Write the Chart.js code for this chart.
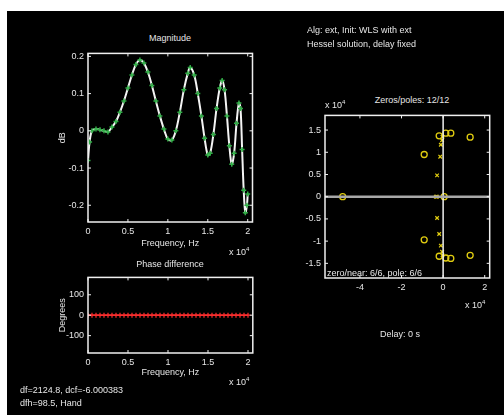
<!DOCTYPE html>
<html>
<head>
<meta charset="utf-8">
<script src="https://cdn.jsdelivr.net/npm/chart.js@4.4.0/dist/chart.umd.min.js"></script>
<style>
body{margin:0;background:#fff;width:504px;height:415px;overflow:hidden;font-family:"Liberation Sans",Arial,sans-serif}
#panel{position:absolute;left:7px;top:11px;width:497px;height:404px;background:#000}
canvas{position:absolute}
.txt{position:absolute;color:#e6e6e6;font-size:9px;white-space:nowrap;line-height:10px}
.ctr{transform:translateX(-50%)}
sup{font-size:6px;vertical-align:4px}
</style>
</head>
<body>
<div id="panel"></div>
<canvas id="magChart" width="203" height="208" style="left:55px;top:44px"></canvas>
<canvas id="phaseChart" width="203" height="113" style="left:55px;top:268px"></canvas>
<canvas id="pzChart" width="203" height="192" style="left:292px;top:106px"></canvas>

<div class="txt ctr" style="left:170px;top:33px">Magnitude</div>
<div class="txt ctr" style="left:170px;top:259px">Phase difference</div>
<div class="txt ctr" style="left:412px;top:95px">Zeros/poles: 12/12</div>
<div class="txt" style="left:229px;top:244px">x 10<sup>4</sup></div>
<div class="txt" style="left:229px;top:374px">x 10<sup>4</sup></div>
<div class="txt" style="left:325px;top:97px">x 10<sup>4</sup></div>
<div class="txt" style="left:465px;top:297px">x 10<sup>4</sup></div>
<div class="txt" style="left:307px;top:25px">Alg: ext, Init: WLS with ext</div>
<div class="txt" style="left:307px;top:39px">Hessel solution, delay fixed</div>
<div class="txt" style="left:327px;top:268px">zero/near: 6/6, pole: 6/6</div>
<div class="txt" style="left:380px;top:329px">Delay: 0 s</div>
<div class="txt" style="left:20px;top:385px">df=2124.8, dcf=-6.000383</div>
<div class="txt" style="left:20px;top:398px">dfh=98.5, Hand</div>

<script>
// ---------- data (frequency in units of 10^4 Hz) ----------
const magFreq = [0, 0.02, 0.05, 0.1, 0.15, 0.2, 0.25, 0.3, 0.35, 0.4, 0.45, 0.5, 0.55, 0.6, 0.65, 0.7,
    0.75, 0.8, 0.85, 0.9, 0.95, 1.0, 1.05, 1.1, 1.15, 1.2, 1.25, 1.28, 1.33, 1.375, 1.42, 1.46, 1.5,
    1.53, 1.57, 1.61, 1.65, 1.68, 1.71, 1.74, 1.77, 1.8, 1.83, 1.86, 1.89, 1.91, 1.93, 1.95, 1.97, 1.99, 2.0]
const magValue = [-0.08, -0.03, 0.0, 0.005, 0.003, 0.0, -0.003, 0.01, 0.025, 0.05, 0.08, 0.115, 0.15, 0.178, 0.19, 0.182,
    0.158, 0.122, 0.08, 0.04, 0.005, -0.022, -0.025, 0.0, 0.05, 0.11, 0.155, 0.17, 0.15, 0.10, 0.04, -0.02, -0.065,
    -0.06, -0.01, 0.06, 0.115, 0.135, 0.11, 0.04, -0.04, -0.09, -0.06, 0.02, 0.075, 0.06, -0.05, -0.16, -0.22, -0.2, -0.17]

const phaseFreq = [0, 0.05, 0.1, 0.15, 0.2, 0.25, 0.3, 0.35, 0.4, 0.45, 0.5, 0.55, 0.6, 0.65, 0.7, 0.75, 0.8, 0.85, 0.9, 0.95,
    1.0, 1.05, 1.1, 1.15, 1.2, 1.25, 1.3, 1.35, 1.4, 1.45, 1.5, 1.55, 1.6, 1.65, 1.7, 1.75, 1.8, 1.85, 1.9, 1.95, 2.0]
const phaseValue = [0, 0, 0, 0, 0, 0, 0, 0, 0, 0, 0, 0, 0, 0, 0, 0, 0, 0, 0, 0,
    0, 0, 0, 0, 0, 0, 0, 0, 0, 0, 0, 0, 0, 0, 0, 0, 0, 0, 0, 0, 0]

// zeros / poles in units of 10^4
const zeroRe = [-4.83, 0.05, -0.91, -0.91, -0.19, -0.19, 0.13, 0.13, 0.37, 0.37, 1.3, 1.3]
const zeroIm = [0, 0, 0.95, -0.97, 1.37, -1.34, 1.43, -1.38, 1.43, -1.39, 1.34, -1.32]
const poleRe = [-0.35, -0.3, -0.29, -0.29, -0.14, -0.19, -0.11, -0.11, -0.05, -0.05, -0.03, -0.03]
const poleIm = [0, 0, 0.48, -0.48, 0.9, -0.84, 1.17, -1.1, 1.27, -1.24, 1.35, -1.32]

const freqTicks = [0, 0.5, 1, 1.5, 2]
const magTicks = [-0.2, -0.1, 0, 0.1, 0.2]
const phaseTicks = [-100, 0, 100]
const pzXTicks = [-4, -2, 0, 2]
const pzYTicks = [-1.5, -1, -0.5, 0, 0.5, 1, 1.5]

// ---------- helpers ----------
const TXT = '#e6e6e6'
const FONT = {family: '"Liberation Sans", Arial, sans-serif', size: 9}

function pts(xs, ys){
    return xs.map((x, i) => ({x: x, y: ys[i]}))
}

function fixTicks(list){
    return (scale) => { scale.ticks = list.map(v => ({value: v})) }
}

function fmt(v){
    return String(Math.round(v * 100) / 100)
}

// box round the plot area + inward tick marks, like the matlab axes
const boxPlugin = {
    id: 'box',
    afterDraw(chart){
        const {ctx, chartArea: a, scales} = chart
        ctx.save()
        ctx.strokeStyle = '#f0f0f0'
        ctx.lineWidth = 1.5
        ctx.strokeRect(a.left, a.top, a.right - a.left, a.bottom - a.top)
        ctx.lineWidth = 1
        ctx.beginPath()
        scales.x.ticks.forEach(t => {
            let px = scales.x.getPixelForValue(t.value)
            ctx.moveTo(px, a.bottom); ctx.lineTo(px, a.bottom - 3)
            ctx.moveTo(px, a.top); ctx.lineTo(px, a.top + 3)
        })
        scales.y.ticks.forEach(t => {
            let py = scales.y.getPixelForValue(t.value)
            ctx.moveTo(a.left, py); ctx.lineTo(a.left + 3, py)
            ctx.moveTo(a.right, py); ctx.lineTo(a.right - 3, py)
        })
        ctx.stroke()
        ctx.restore()
    }
}

function axis(min, max, ticks, size, title, isX){
    return {
        type: 'linear', min: min, max: max,
        grid: {display: false, drawTicks: false}, border: {display: false},
        afterBuildTicks: fixTicks(ticks),
        afterFit: (s) => { if(isX) s.height = size; else s.width = size },
        ticks: {color: TXT, font: FONT, padding: 4, maxRotation: 0, autoSkip: false, callback: fmt},
        title: {display: !!title, text: title || '', color: TXT, font: FONT, padding: {top: 2, bottom: 3}}
    }
}

function baseOptions(scales, padRight){
    return {
        responsive: false, animation: false,
        layout: {padding: {top: 6, right: padRight, left: 0, bottom: 0}},
        plugins: {legend: {display: false}, tooltip: {enabled: false}},
        scales: scales
    }
}

// ---------- magnitude ----------
new Chart(document.getElementById('magChart'), {
    type: 'scatter',
    data: {datasets: [{
        data: pts(magFreq, magValue),
        showLine: true, borderColor: '#f4f4f4', borderWidth: 2, tension: 0.35,
        pointStyle: 'cross', pointRadius: 2.5, pointBorderColor: '#2fae45', pointBorderWidth: 1.5
    }]},
    options: baseOptions({
        x: axis(0, 2.06, freqTicks, 30, 'Frequency, Hz', true),
        y: axis(-0.245, 0.208, magTicks, 33, 'dB', false)
    }, 5),
    plugins: [boxPlugin]
})

// ---------- phase difference ----------
new Chart(document.getElementById('phaseChart'), {
    type: 'scatter',
    data: {datasets: [{
        data: pts(phaseFreq, phaseValue),
        showLine: true, borderColor: '#e02020', borderWidth: 1.5,
        pointStyle: 'cross', pointRadius: 2.5, pointBorderColor: '#ff3030', pointBorderWidth: 1.2
    }]},
    options: baseOptions({
        x: axis(0, 2.06, freqTicks, 28, 'Frequency, Hz', true),
        y: axis(-185, 185, phaseTicks, 33, 'Degrees', false)
    }, 5),
    plugins: [boxPlugin]
})

// ---------- zeros / poles ----------
const pzXmin = -5.68, pzXmax = 2.24, pzYmin = -1.83, pzYmax = 1.83
new Chart(document.getElementById('pzChart'), {
    type: 'scatter',
    data: {datasets: [
        {data: [{x: pzXmin, y: 0}, {x: pzXmax, y: 0}], showLine: true, borderColor: '#a8a8a8', borderWidth: 2.5, pointRadius: 0},
        {data: [{x: 0, y: pzYmin}, {x: 0, y: pzYmax}], showLine: true, borderColor: '#f0f0f0', borderWidth: 1.5, pointRadius: 0},
        {data: pts(zeroRe, zeroIm), pointStyle: 'circle', pointRadius: 3, pointBorderColor: '#e0cc10',
            pointBackgroundColor: 'rgba(0,0,0,0)', pointBorderWidth: 1.3},
        {data: pts(poleRe, poleIm), pointStyle: 'crossRot', pointRadius: 2.5, pointBorderColor: '#e0cc10', pointBorderWidth: 1.2}
    ]},
    options: baseOptions({
        x: axis(pzXmin, pzXmax, pzXTicks, 20, '', true),
        y: axis(pzYmin, pzYmax, pzYTicks, 33, '', false)
    }, 5),
    plugins: [boxPlugin]
})
</script>
</body>
</html>
